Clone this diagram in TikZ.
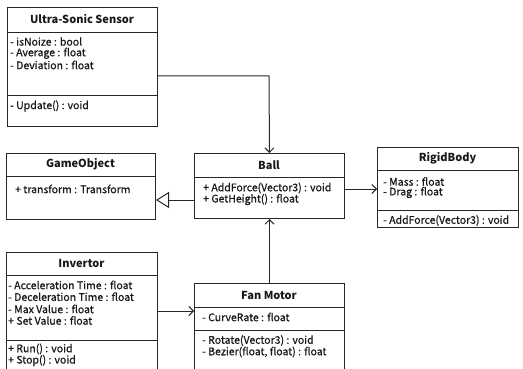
\documentclass[tikz,border=0pt]{standalone}
\usepackage{fontspec}
\setmainfont{Noto Sans CJK KR}
\newfontfamily\bodyfont{Noto Sans CJK KR}[FakeBold=0.7]
\usetikzlibrary{arrows.meta}
\tikzset{
  cls/.style={draw=black!85, line width=1pt, inner sep=0pt, anchor=north west},
  ttl/.style={font=\fontsize{11}{13}\selectfont\bfseries, inner sep=0pt, text=black!90},
  txt/.style={font=\bodyfont\fontsize{10.5}{12}\selectfont, inner sep=0pt, anchor=west, text=black!90},
  conn/.style={draw=black!85, line width=1pt},
  assoc/.style={conn, -{Straight Barb[length=4.5pt,width=9pt]}},
  inherit/.style={conn, -{Triangle[open, length=13pt, width=16pt, fill=white]}}
}
\begin{document}
\begin{tikzpicture}[x=1pt,y=-1pt]
\useasboundingbox (0,0) rectangle (523,369);
\clip (0,0) rectangle (523,369);
\fill[white] (0,0) rectangle (523,369);

% Ultra-Sonic Sensor
\node[cls, minimum width=150pt, minimum height=25pt] (us) at (7,7) {};
\node[cls, minimum width=150pt, minimum height=63pt] (usa) at (7,32) {};
\node[cls, minimum width=150pt, minimum height=31pt] (usm) at (7,95) {};
\node[ttl] (ust) at (82,19.5) {Ultra-Sonic Sensor};
\node[txt] (us1) at (10,41.5) {- isNoize : bool};
\node[txt] (us2) at (10,53.3) {- Average : float};
\node[txt] (us3) at (10,65) {- Deviation : float};
\node[txt] (us4) at (10,106) {- Update() : void};

% GameObject
\node[cls, minimum width=149pt, minimum height=23pt] (go) at (6,153) {};
\node[cls, minimum width=149pt, minimum height=43pt] (goa) at (6,176) {};
\node[ttl] (got) at (80.5,164.5) {GameObject};
\node[txt] (go1) at (15,189) {+ transform : Transform};

% Ball
\node[cls, minimum width=150pt, minimum height=24pt] (ball) at (194,153) {};
\node[cls, minimum width=150pt, minimum height=41pt] (balla) at (194,177) {};
\node[ttl] (ballt) at (269,165) {Ball};
\node[txt] (b1) at (203,188) {+ AddForce(Vector3) : void};
\node[txt] (b2) at (203,199.5) {+ GetHeight() : float};

% RigidBody
\node[cls, minimum width=141pt, minimum height=23pt] (rb) at (377,147) {};
\node[cls, minimum width=141pt, minimum height=40pt] (rba) at (377,170) {};
\node[cls, minimum width=141pt, minimum height=17pt] (rbm) at (377,210) {};
\node[ttl] (rbt) at (447.5,158.5) {RigidBody};
\node[txt] (r1) at (383,181.5) {- Mass : float};
\node[txt] (r2) at (383,192.5) {- Drag : float};
\node[txt] (r3) at (383,220.5) {- AddForce(Vector3) : void};

% Invertor
\node[cls, minimum width=151pt, minimum height=23pt] (inv) at (6,252) {};
\node[cls, minimum width=151pt, minimum height=65pt] (inva) at (6,275) {};
\node[cls, minimum width=151pt, minimum height=40pt] (invm) at (6,340) {};
\node[ttl] (invt) at (81.5,263.5) {Invertor};
\node[txt] (i1) at (8,285) {- Acceleration Time : float};
\node[txt] (i2) at (8,296.7) {- Deceleration Time : float};
\node[txt] (i3) at (8,309) {- Max Value : float};
\node[txt] (i4) at (8,320.5) {+ Set Value : float};
\node[txt] (i5) at (8,349) {+ Run() : void};
\node[txt] (i6) at (8,360.5) {+ Stop() : void};

% Fan Motor
\node[cls, minimum width=150pt, minimum height=24pt] (fm) at (194,283) {};
\node[cls, minimum width=150pt, minimum height=23pt] (fma) at (194,307) {};
\node[cls, minimum width=150pt, minimum height=50pt] (fmm) at (194,330) {};
\node[ttl] (fmt) at (269,295) {Fan Motor};
\node[txt] (f1) at (202,317) {- CurveRate : float};
\node[txt] (f2) at (202,340.5) {- Rotate(Vector3) : void};
\node[txt] (f3) at (202,352) {- Bezier(float, float) : float};

% connectors
\coordinate (c1) at (269,76);
\draw[assoc] (usa.east |- c1) -- (c1) -- (ball.north);
\draw[inherit] (balla.west |- 0,200) -- (goa.east |- 0,200);
\draw[assoc] (balla.east |- 0,189) -- (rba.west |- 0,189);
\draw[assoc] (fm.north) -- (balla.south);
\draw[assoc] (inva.east |- 0,311) -- (fm.west |- 0,311);
\end{tikzpicture}
\end{document}
